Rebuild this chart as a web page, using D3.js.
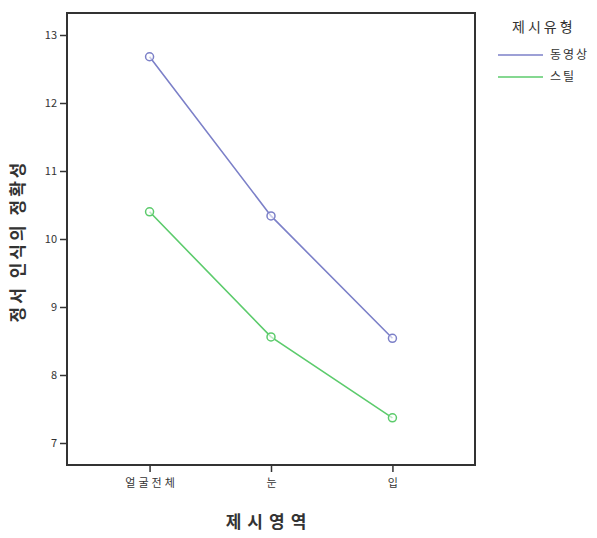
<!DOCTYPE html>
<html><head><meta charset="utf-8">
<script src="https://cdn.jsdelivr.net/npm/d3@7"></script>
<style>body{margin:0;background:#fff}svg{display:block}</style>
</head><body>
<svg id="c" width="597" height="538"></svg>
<script>
const categories = ["얼굴전체", "눈", "입"];
const seriesNames = ["동영상", "스틸"];
const videoValues = [12.68, 10.34, 8.54];
const stillValues = [10.40, 8.56, 7.37];
const yTicks = [7, 8, 9, 10, 11, 12, 13];
const colors = ["#7c80c8", "#5ccb6c"];

const svg = d3.select("#c");
const L = 67, R = 475, T = 13, B = 465;
const font = "'Noto Sans CJK KR', sans-serif";

const x = d3.scalePoint().domain(categories).range([L, R]).padding(0.68);
const y = d3.scaleLinear().domain([7, 13]).range([443, 35]);

// frame
svg.append("rect").attr("x", L).attr("y", T).attr("width", R - L).attr("height", B - T)
  .attr("fill", "none").attr("stroke", "#333").attr("stroke-width", 2);

const yAxis = svg.append("g").attr("transform", `translate(${L},0)`)
  .call(d3.axisLeft(y).tickValues(yTicks).tickSize(7).tickFormat(d3.format("d")));
const xAxis = svg.append("g").attr("transform", `translate(0,${B})`)
  .call(d3.axisBottom(x).tickSize(7));
[yAxis, xAxis].forEach(a => {
  a.select(".domain").remove();
  a.selectAll("line").attr("stroke", "#333").attr("stroke-width", 1.5);
  a.selectAll("text").attr("fill", "#333").style("font-family", font).style("font-size", "11px");
});
yAxis.selectAll("text").attr("x", -10);
xAxis.selectAll("text").attr("y", 14).attr("dx", 1.5).style("letter-spacing", "3px");

const data = [videoValues, stillValues];
const line = d3.line().x((d, i) => x(categories[i])).y(d => y(d));
data.forEach((vals, k) => {
  svg.append("path").datum(vals).attr("d", line).attr("fill", "none")
    .attr("stroke", colors[k]).attr("stroke-width", 1.6);
  svg.selectAll(null).data(vals).enter().append("circle")
    .attr("cx", (d, i) => x(categories[i])).attr("cy", d => y(d)).attr("r", 4)
    .attr("fill", "#fff").attr("fill-opacity", 0.6).attr("stroke", colors[k]).attr("stroke-width", 1.5);
});

// axis titles
svg.append("text").attr("x", (L + R) / 2 - 2).attr("y", 528).attr("text-anchor", "middle")
  .style("font-family", font).style("font-size", "17px").style("font-weight", "bold")
  .style("letter-spacing", "6px").attr("fill", "#333").text("제시영역");
svg.append("text").attr("transform", `translate(24,${(T + B) / 2 + 2}) rotate(-90)`)
  .attr("text-anchor", "middle")
  .style("font-family", font).style("font-size", "17px").style("font-weight", "bold")
  .style("letter-spacing", "3px").attr("fill", "#333").text("정서 인식의 정확성");

// legend
const lg = svg.append("g");
lg.append("text").attr("x", 512).attr("y", 32)
  .style("font-family", font).style("font-size", "14px").style("letter-spacing", "3px")
  .attr("fill", "#333").text("제시유형");
seriesNames.forEach((n, k) => {
  const yy = 55 + k * 22;
  lg.append("line").attr("x1", 498).attr("x2", 543).attr("y1", yy).attr("y2", yy)
    .attr("stroke", colors[k]).attr("stroke-width", 1.6);
  lg.append("text").attr("x", 550).attr("y", yy + 4)
    .style("font-family", font).style("font-size", "12px").style("letter-spacing", "2px")
    .attr("fill", "#333").text(n);
});
</script>
</body></html>
